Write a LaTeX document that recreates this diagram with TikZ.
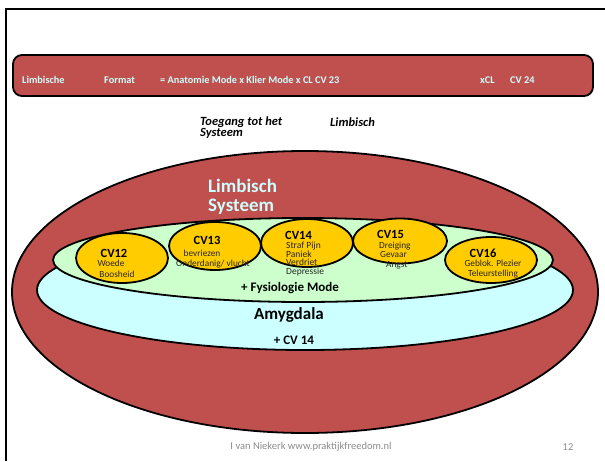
\documentclass[tikz,border=0pt]{standalone}
\usepackage{fontspec}
\setmainfont{Carlito}
\usetikzlibrary{shapes.geometric}
\definecolor{bred}{HTML}{C0504D}
\definecolor{lcyan}{HTML}{CCFFFF}
\definecolor{lgreen}{HTML}{CCFFCC}
\definecolor{yel}{HTML}{FFCC00}
\definecolor{foot}{HTML}{8C8C8C}
\tikzset{
  ell/.style={ellipse, draw=black, line width=1.8pt, inner sep=0pt},
  hdr/.style={font=\fontsize{10.3}{11}\selectfont\bfseries, text=lcyan, anchor=west, inner sep=0pt},
  ital/.style={font=\fontsize{12.5}{11}\selectfont\bfseries\itshape, anchor=west, inner sep=0pt, align=left},
  cvt/.style={font=\fontsize{12.5}{13}\selectfont\bfseries, inner sep=0pt},
  sm/.style={font=\fontsize{9.3}{9.5}\selectfont, inner sep=0pt, text=black!85},
  lbl/.style={font=\fontsize{13}{14}\selectfont\bfseries, inner sep=0pt},
}
\begin{document}
\begin{tikzpicture}[x=1pt,y=-1pt]
\useasboundingbox (0,0) rectangle (605,461);
% slide frame
\draw[line width=1.8pt] (5,9) coordinate (fa) -- (605,9) coordinate (fb);
\draw[line width=1.8pt] (6,9) coordinate (fc) -- (6,461) coordinate (fd);
% header banner
\draw[fill=bred, line width=1.8pt, rounded corners=9pt] (13,55) rectangle (593,96);
\node[hdr] (h1) at (22,80) {Limbische};
\node[hdr] (h2) at (104,80) {Format};
\node[hdr] (h3) at (160,80) {= Anatomie Mode x Klier Mode x CL CV 23};
\node[hdr] (h4) at (480,80) {xCL};
\node[hdr] (h5) at (510,80) {CV 24};
% italic titles
\node[ital] (t1) at (200,127.5) {Toegang tot het\\Systeem};
\node[ital] (t2) at (330,122) {Limbisch};
% ellipses
\node[ell, fill=bred, minimum width=586pt, minimum height=282pt] (red) at (305,292) {};
\node[ell, fill=lcyan, minimum width=536pt, minimum height=120pt] (cyan) at (305,290) {};
\node[ell, fill=lgreen, minimum width=500pt, minimum height=84pt] (green) at (303,260) {};
\node[ell, fill=yel, minimum width=92pt, minimum height=50pt] (e12) at (122,258) {};
\node[ell, fill=yel, minimum width=92pt, minimum height=48pt] (e13) at (215,246) {};
\node[ell, fill=yel, minimum width=92pt, minimum height=48pt] (e14) at (307,243) {};
\node[ell, fill=yel, minimum width=94pt, minimum height=45pt] (e15) at (400,241) {};
\node[ell, fill=yel, minimum width=92pt, minimum height=46pt] (e16) at (491,260) {};
% Limbisch Systeem
\node[font=\fontsize{19}{19}\selectfont\bfseries, text=lcyan, anchor=west, align=left, inner sep=0pt] (ls) at (208,197) {Limbisch\\Systeem};
% CV texts
\node[cvt] (c12) at (114,253) {CV12};
\node[sm] (c12a) at (111,263.5) {Woede};
\node[sm] (c12b) at (117,274) {Boosheid};
\node[cvt] (c13) at (207,240) {CV13};
\node[sm] (c13a) at (202,253) {bevriezen};
\node[sm] (c13b) at (213,264) {Onderdanig/ vlucht};
\node[cvt, anchor=west] (c14) at (285,235) {CV14};
\node[sm, anchor=north west, align=left, font=\fontsize{9.5}{8.8}\selectfont] (c14a) at (286,241.5) {Straf Pijn\\Paniek\\Verdriet\\Depressie};
\node[cvt, anchor=west] (c15) at (377,234.5) {CV15};
\node[sm, anchor=west] (c15a) at (379,246) {Dreiging};
\node[sm, anchor=west] (c15b) at (380,255) {Gevaar};
\node[sm, anchor=west] (c15c) at (386,265) {Angst};
\node[cvt] (c16) at (483,253) {CV16};
\node[sm] (c16a) at (493,263.5) {Geblok. Plezier};
\node[sm] (c16b) at (493,274) {Teleurstelling};
% lower labels
\node[lbl] (fys) at (290,288) {+ Fysiologie Mode};
\node[font=\fontsize{17}{18}\selectfont\bfseries, inner sep=0pt] (amy) at (289,315) {Amygdala};
\node[lbl] (cv14) at (294,340) {+ CV 14};
% footer
\node[font=\fontsize{10.5}{12}\selectfont, text=foot, inner sep=0pt] (ft) at (311,447) {I van Niekerk www.praktijkfreedom.nl};
\node[font=\fontsize{10.5}{12}\selectfont, text=foot, inner sep=0pt] (pg) at (568,447) {12};
\end{tikzpicture}
\end{document}
